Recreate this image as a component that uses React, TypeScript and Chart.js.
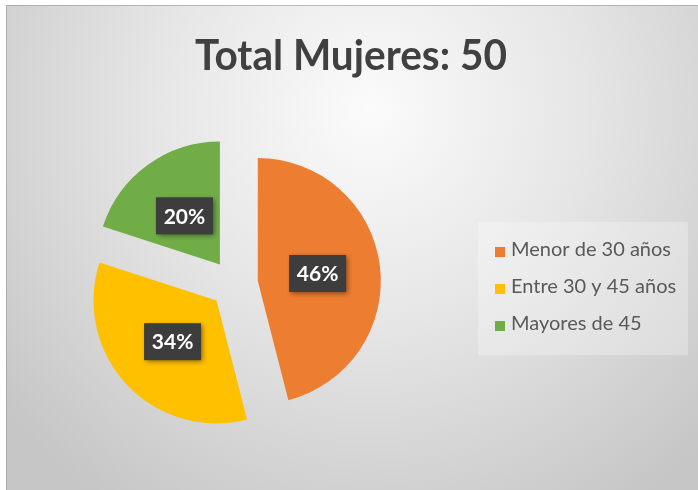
import React, { useEffect, useRef } from "react";
import { Chart, registerables } from "chart.js";

Chart.register(...registerables);

const categories = ["Menor de 30 años", "Entre 30 y 45 años", "Mayores de 45"];
const counts = [23, 17, 10];
const colors = ["#ED7D31", "#FFC000", "#70AD47"];
const titleText = "Total Mujeres: 50";

const W = 698;
const H = 490;
const EXPLODE = 24;

const backgroundPlugin = {
  id: "bgPanel",
  beforeDraw(chart: any) {
    const ctx = chart.ctx;
    ctx.save();
    ctx.fillStyle = "#ffffff";
    ctx.fillRect(0, 0, W, H);
    const g = ctx.createRadialGradient(370, 110, 0, 370, 110, 470);
    g.addColorStop(0, "#fbfbfb");
    g.addColorStop(0.45, "#e6e6e6");
    g.addColorStop(1, "#c6c6c6");
    ctx.fillStyle = g;
    ctx.fillRect(6, 5, W - 6, H - 5);
    ctx.strokeStyle = "rgba(150,150,150,0.6)";
    ctx.lineWidth = 1;
    ctx.beginPath();
    ctx.moveTo(6.5, H);
    ctx.lineTo(6.5, 5.5);
    ctx.lineTo(W, 5.5);
    ctx.stroke();
    ctx.restore();
  },
};

// Explode each slice by a fixed distance along its bisector without inflating it
const explodePlugin = {
  id: "explodeSlices",
  beforeDatasetsDraw(chart: any) {
    chart.getDatasetMeta(0).data.forEach((el: any) => {
      if (el.__exploded) return;
      const orig = el.draw;
      el.draw = function (ctx: CanvasRenderingContext2D, area: any) {
        const half = (this.startAngle + this.endAngle) / 2;
        ctx.save();
        ctx.translate(Math.cos(half) * EXPLODE, Math.sin(half) * EXPLODE);
        orig.call(this, ctx, area);
        ctx.restore();
      };
      el.__exploded = true;
    });
  },
};

const titlePlugin = {
  id: "bigTitle",
  afterDraw(chart: any) {
    const ctx = chart.ctx;
    ctx.save();
    ctx.font = "bold 42px Lato";
    ctx.fillStyle = "#404040";
    ctx.textAlign = "center";
    ctx.textBaseline = "alphabetic";
    const w = ctx.measureText(titleText).width;
    const sx = 312 / w;
    ctx.translate(351, 70);
    ctx.scale(sx, 1);
    ctx.fillText(titleText, 0, 0);
    ctx.restore();
  },
};

const labelPlugin = {
  id: "darkLabels",
  afterDatasetsDraw(chart: any) {
    const ctx = chart.ctx;
    const meta = chart.getDatasetMeta(0);
    const data = chart.data.datasets[0].data as number[];
    const total = data.reduce((a, b) => a + b, 0);
    meta.data.forEach((arc: any, i: number) => {
      const { x, y, startAngle, endAngle, outerRadius } = arc.getProps([
        "x",
        "y",
        "startAngle",
        "endAngle",
        "outerRadius",
      ]);
      const mid = (startAngle + endAngle) / 2;
      const r = EXPLODE + outerRadius * 0.49;
      const cx = x + Math.cos(mid) * r;
      const cy = y + Math.sin(mid) * r;
      const text = Math.round((data[i] / total) * 100) + "%";
      const bw = 57;
      const bh = 37;
      ctx.save();
      ctx.shadowColor = "rgba(0,0,0,0.45)";
      ctx.shadowBlur = 5;
      ctx.shadowOffsetX = 2;
      ctx.shadowOffsetY = 2;
      ctx.fillStyle = "#3d3d3d";
      ctx.fillRect(cx - bw / 2, cy - bh / 2, bw, bh);
      ctx.restore();
      ctx.save();
      ctx.fillStyle = "#ffffff";
      ctx.font = "bold 21px Lato";
      ctx.textAlign = "center";
      ctx.textBaseline = "middle";
      ctx.fillText(text, cx, cy + 1);
      ctx.restore();
    });
  },
};

const legendPlugin = {
  id: "sideLegend",
  afterDraw(chart: any) {
    const ctx = chart.ctx;
    ctx.save();
    ctx.fillStyle = "rgba(255,255,255,0.28)";
    ctx.fillRect(478, 222, 210, 133);
    const labels = chart.data.labels as string[];
    const bg = chart.data.datasets[0].backgroundColor as string[];
    labels.forEach((lab, i) => {
      const yc = 252 + i * 37;
      ctx.fillStyle = bg[i];
      ctx.fillRect(495, yc - 5, 10, 10);
      ctx.fillStyle = "#595959";
      ctx.font = "20px Lato";
      ctx.textAlign = "left";
      ctx.textBaseline = "middle";
      ctx.fillText(lab, 511, yc - 2);
    });
    ctx.restore();
  },
};

export default function App() {
  const ref = useRef<HTMLCanvasElement | null>(null);
  useEffect(() => {
    if (!ref.current) return;
    const chart = new Chart(ref.current, {
      type: "pie",
      data: {
        labels: categories,
        datasets: [
          {
            data: counts,
            backgroundColor: colors,
            borderWidth: 0,
            offset: 0,
            hoverOffset: 0,
            clip: false as any,
          },
        ],
      },
      options: {
        responsive: false,
        animation: false,
        devicePixelRatio: 1,
        layout: { padding: { left: 111, right: 341, top: 161, bottom: 83 } },
        plugins: {
          legend: { display: false },
          tooltip: { enabled: false },
          title: { display: false },
        },
      },
      plugins: [backgroundPlugin, explodePlugin, labelPlugin, legendPlugin, titlePlugin],
    });
    return () => chart.destroy();
  }, []);
  return (
    <div style={{ position: "absolute", left: 0, top: 0, width: W, height: H }}>
      <canvas ref={ref} width={W} height={H} style={{ width: W, height: H, display: "block" }} />
    </div>
  );
}
